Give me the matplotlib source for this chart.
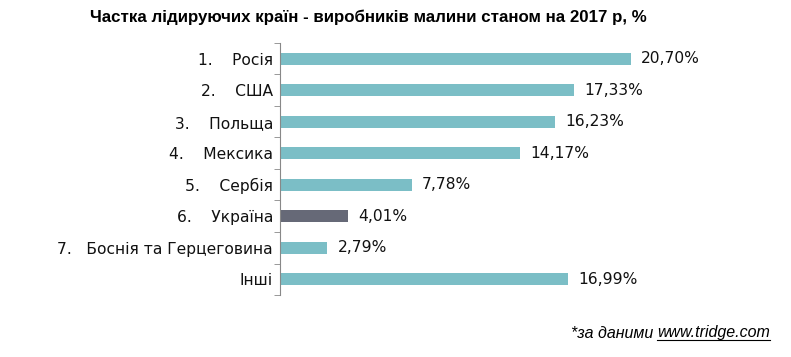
import matplotlib.pyplot as plt
from matplotlib.lines import Line2D

countries = ["1.    Росія", "2.    США", "3.    Польща", "4.    Мексика", "5.    Сербія",
             "6.    Україна", "7.   Боснія та Герцеговина", "Інші"]
shares = [20.70, 17.33, 16.23, 14.17, 7.78, 4.01, 2.79, 16.99]
value_labels = ["20,70%", "17,33%", "16,23%", "14,17%", "7,78%", "4,01%", "2,79%", "16,99%"]

teal = "#7BBEC6"
dark = "#666977"
colors = [dark if "Україна" in c else teal for c in countries]

fig = plt.figure(figsize=(7.91, 3.57), dpi=100)
W, H = 791, 357
ax = fig.add_axes([280 / W, 1 - 295 / H, 500 / W, 252 / H])

y = list(range(len(countries)))
ax.barh(y, shares, height=0.38, color=colors)
ax.set_ylim(len(countries) - 0.5, -0.5)
ax.set_xlim(0, 500 / 16.96)

for yi, v, lab in zip(y, shares, value_labels):
    ax.text(v + 0.6, yi, lab, va="center", ha="left", fontsize=11.2,
            family="DejaVu Sans", color="#111111")

ax.set_yticks(y)
ax.set_yticklabels(countries, fontsize=11.2, family="DejaVu Sans", color="#111111")
ax.set_yticks([i - 0.5 for i in range(len(countries) + 1)], minor=True)
ax.tick_params(axis="y", which="major", length=0, pad=5)
ax.tick_params(axis="y", which="minor", length=4, color="#888888", direction="out")
ax.set_xticks([])
for s in ["top", "right", "bottom"]:
    ax.spines[s].set_visible(False)
ax.spines["left"].set_color("#888888")

fig.text(368 / W, 1 - 17 / H, "Частка лідируючих країн - виробників малини станом на 2017 р, %",
         ha="center", va="center", fontsize=12.2, fontweight="bold", family="Liberation Sans")

t1 = fig.text(770 / W, 1 - 333 / H, "www.tridge.com", ha="right", va="center",
              fontsize=11.5, style="italic", family="Liberation Sans")
fig.canvas.draw()
bb = t1.get_window_extent().transformed(fig.transFigure.inverted())
fig.text(bb.x0 - 4 / W, 1 - 333 / H, "*за даними", ha="right", va="center",
         fontsize=11.5, style="italic", family="Liberation Sans")
fig.add_artist(Line2D([bb.x0, bb.x1], [bb.y0 + 1 / H, bb.y0 + 1 / H], color="black", lw=0.8,
                      transform=fig.transFigure))

fig.savefig("out.png", dpi=100)
